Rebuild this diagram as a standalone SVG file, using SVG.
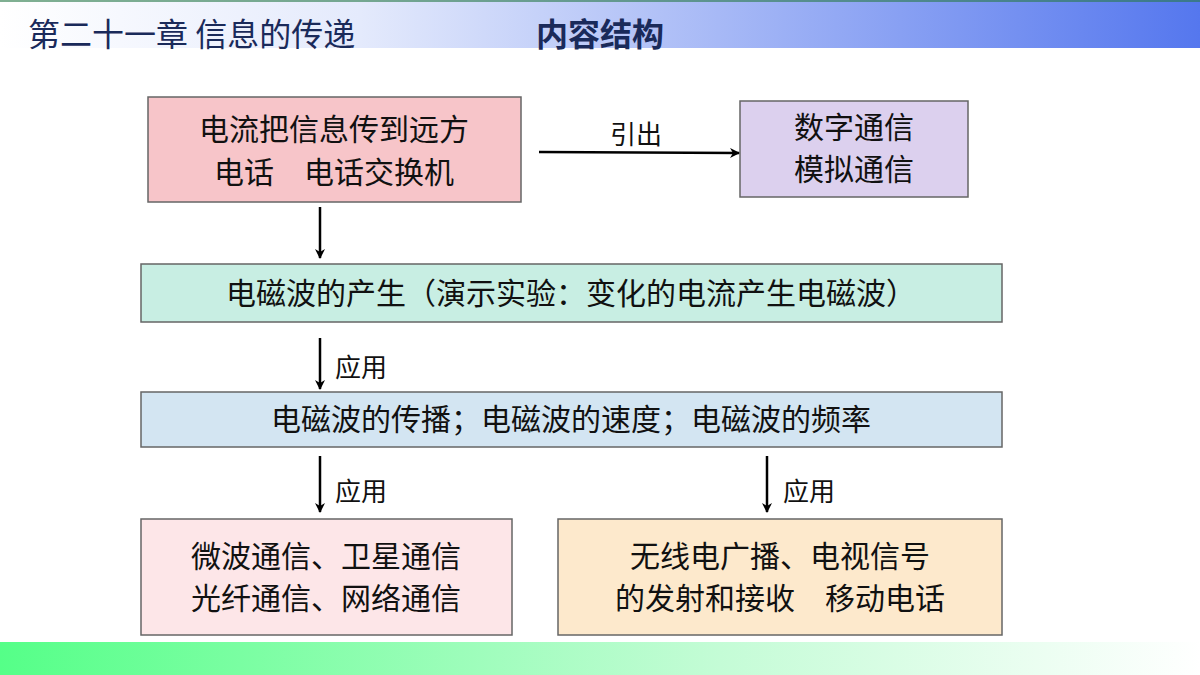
<svg xmlns="http://www.w3.org/2000/svg" width="1200" height="675" viewBox="0 0 1200 675">
<defs>
<linearGradient id="hg" x1="0" x2="1"><stop offset="0" stop-color="#fff"/><stop offset="0.3" stop-color="#e4eafc"/><stop offset="1" stop-color="#5577ee"/></linearGradient>
<linearGradient id="fg" x1="0" x2="1"><stop offset="0" stop-color="#55ff88"/><stop offset="0.6" stop-color="#c4fcd6"/><stop offset="1" stop-color="#fff"/></linearGradient>
<marker id="ar" markerWidth="10" markerHeight="10" refX="9" refY="5" orient="auto" markerUnits="userSpaceOnUse"><path d="M0,0 L10,5 L0,10 L3,5 Z" fill="#000"/></marker>
<style>
.b{stroke:#666;stroke-width:1.5}
.t{font-family:"Noto Sans CJK SC",sans-serif;font-size:30px;fill:#111;text-anchor:middle}
.s{font-family:"Noto Sans CJK SC",sans-serif;font-size:26px;fill:#111}
.c{stroke:#000;stroke-width:2.5;fill:none;marker-end:url(#ar)}
</style>
</defs>
<rect width="1200" height="675" fill="#fff"/>
<rect x="0" y="0" width="1200" height="48" fill="url(#hg)"/>
<rect x="0" y="0" width="1200" height="2" fill="#2a7a4a" opacity="0.6"/>
<rect x="0" y="642" width="1200" height="33" fill="url(#fg)"/>
<text x="28" y="46" font-family="'Noto Sans CJK SC',sans-serif" font-size="32" fill="#1a2a5a">第二十一章  信息的传递</text>
<text x="536" y="46" font-family="'Noto Sans CJK SC',sans-serif" font-size="32" font-weight="bold" fill="#1a2a5a">内容结构</text>
<g id="n1"><rect class="b" x="148" y="97" width="373" height="105" fill="#f7c5c9"/><text class="t" x="334" y="140">电流把信息传到远方</text><text class="t" x="334" y="183">电话　电话交换机</text></g>
<g id="n2"><rect class="b" x="740" y="101" width="228" height="96" fill="#dcd0ee"/><text class="t" x="854" y="138">数字通信</text><text class="t" x="854" y="180">模拟通信</text></g>
<g id="n3"><rect class="b" x="141" y="264" width="861" height="58" fill="#c8eee3"/><text class="t" x="571" y="304">电磁波的产生（演示实验：变化的电流产生电磁波）</text></g>
<g id="n4"><rect class="b" x="141" y="392" width="861" height="55" fill="#d3e5f2"/><text class="t" x="571" y="430">电磁波的传播；电磁波的速度；电磁波的频率</text></g>
<g id="n5"><rect class="b" x="141" y="519" width="371" height="116" fill="#fde6e8"/><text class="t" x="326" y="567">微波通信、卫星通信</text><text class="t" x="326" y="609">光纤通信、网络通信</text></g>
<g id="n6"><rect class="b" x="558" y="519" width="444" height="116" fill="#fde9cc"/><text class="t" x="780" y="567">无线电广播、电视信号</text><text class="t" x="780" y="609">的发射和接收　移动电话</text></g>
<g id="connectors">
<path class="c" d="M539,152 L739,153"/>
<path class="c" d="M320,207 L320,258"/>
<path class="c" d="M320,338 L320,389"/>
<path class="c" d="M320,456 L320,512"/>
<path class="c" d="M767,456 L767,512"/>
<text class="s" x="610" y="144">引出</text>
<text class="s" x="335" y="377">应用</text>
<text class="s" x="335" y="501">应用</text>
<text class="s" x="783" y="501">应用</text>
</g>
</svg>
